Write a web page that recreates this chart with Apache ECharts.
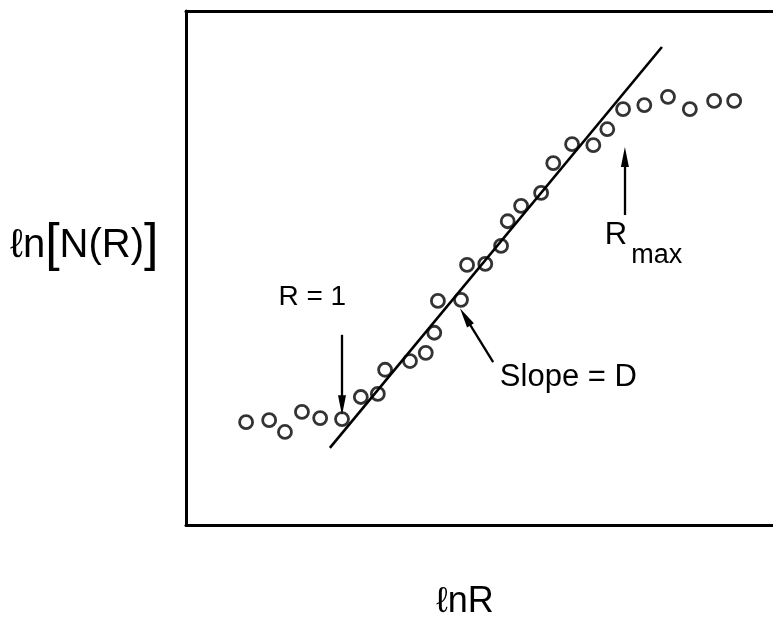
<!DOCTYPE html>
<html>
<head>
<meta charset="utf-8">
<script src="https://cdn.jsdelivr.net/npm/echarts@6/dist/echarts.min.js"></script>
<style>
html,body{margin:0;padding:0;background:#fff;}
#chart{width:773px;height:625px;}
</style>
</head>
<body>
<div id="chart"></div>
<script>
// ln R values of measured points
const lnR = [0.99,1.37,1.63,1.91,2.21,2.57,2.88,3.16,3.28,3.69,3.95,4.09,4.15,4.53,4.63,4.93,5.19,5.30,5.52,5.85,6.05,6.36,6.71,6.94,7.20,7.55,7.94,8.30,8.70,9.03];
// ln N(R) values of measured points
const lnN = [2.00,2.04,1.81,2.20,2.08,2.06,2.49,2.55,3.02,3.19,3.35,3.74,4.36,4.38,5.06,5.08,5.43,5.91,6.21,6.46,7.04,7.41,7.39,7.70,8.09,8.17,8.33,8.09,8.25,8.25];
// fitted straight line (slope = D), end points
const fitX = [2.37, 7.84];
const fitY = [1.50, 9.30];
// annotation arrows: [x1,y1] -> [x2,y2] (head at second point)
const arrowFrom = [[2.57,3.70],[5.06,3.17],[7.23,6.03]];
const arrowTo   = [[2.57,2.33],[4.60,4.05],[7.23,7.16]];
// annotation texts
const noteText = ['R = 1', 'Slope = D', '{r|R}{s|max}'];
const notePos  = [[2.08,4.44],[5.17,2.88],[6.90,5.45]];
const xTitle = 'ℓnR';
const yTitle = 'ℓn{b|[}N(R){b|]}';

const chart = echarts.init(document.getElementById('chart'));
const pts = lnR.map((x,i)=>[x,lnN[i]]);
const fit = fitX.map((x,i)=>[x,fitY[i]]);
const ink = '#000';
const font = 'Liberation Sans';
const hidden = {axisTick:{show:false},axisLabel:{show:false},splitLine:{show:false}};
const frame = {show:true,lineStyle:{color:ink,width:3}};

chart.setOption({
  animation:false,
  backgroundColor:'#fff',
  grid:{left:186,top:11,bottom:100,right:0,show:false},
  xAxis:[
    Object.assign({type:'value',min:0,max:9.67,position:'bottom',axisLine:frame},hidden),
    Object.assign({type:'value',min:0,max:9.67,position:'top',axisLine:frame},hidden)
  ],
  yAxis:Object.assign({type:'value',min:0,max:10,axisLine:frame},hidden),
  graphic:[
    {type:'text',left:10,top:220,style:{text:yTitle,fill:ink,font:'40px '+font,
      rich:{b:{fontSize:52,fontFamily:font,fill:ink,fontWeight:'lighter'}}}},
    {type:'text',left:436,top:584,style:{text:xTitle,fill:ink,font:'36px '+font}}
  ],
  series:[
    {type:'line',data:fit,symbol:'none',lineStyle:{color:ink,width:2.6},silent:true,z:2,
     markLine:{silent:true,symbol:['none','arrow'],lineStyle:{color:ink,width:2.3,type:'solid'},label:{show:false},
       data:arrowFrom.map((f,i)=>[{coord:f,symbol:'none'},{coord:arrowTo[i],symbol:'triangle',symbolSize:[8,20]}])},
     markPoint:{silent:true,symbol:'circle',symbolSize:0,
       data:notePos.map((p,i)=>({coord:p,value:i,label:{show:true,formatter:noteText[i],
         position:i===0?'inside':'right',distance:0,color:ink,fontFamily:font,fontSize:i===0?28:31,
         rich:{r:{fontSize:31,fontFamily:font,color:ink,verticalAlign:'top'},s:{fontSize:27,fontFamily:font,color:ink,padding:[22,0,0,4]}}}}))}
    },
    {type:'scatter',data:pts,symbol:'circle',symbolSize:13,z:3,
     itemStyle:{color:'rgba(255,255,255,0)',borderColor:ink,borderWidth:2.8}}
  ]
});
</script>
</body>
</html>
